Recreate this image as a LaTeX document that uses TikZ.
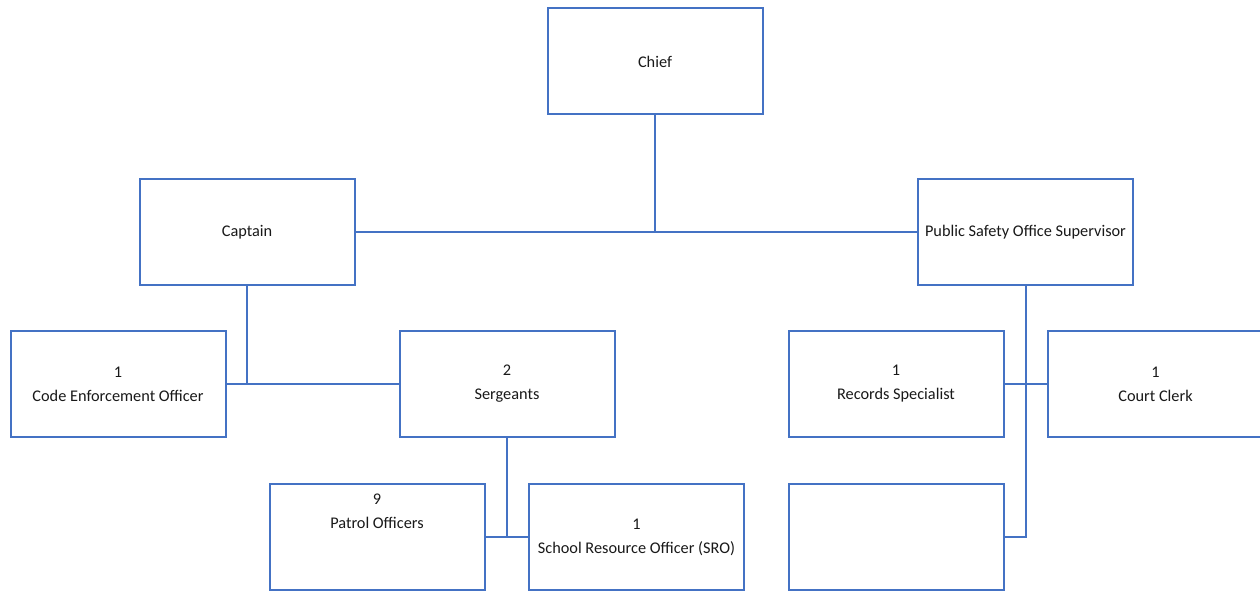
\documentclass[tikz,border=0pt]{standalone}
\usepackage{fontspec}
\setmainfont{Carlito}
\definecolor{orgblue}{HTML}{4472C4}
\begin{document}
\begin{tikzpicture}[x=1pt,y=-1pt,
  orgbox/.style={draw=orgblue, line width=2pt, fill=white, minimum width=215pt, minimum height=106pt, inner sep=0pt, align=center, font=\fontsize{16.3}{24}\selectfont, text=black!90},
  plain/.style={inner sep=0pt, align=center, font=\fontsize{16.3}{24}\selectfont, text=black!90},
  link/.style={draw=orgblue, line width=2pt}]
\useasboundingbox[fill=white] (0,0) rectangle (1260,593);
\node[orgbox] (chief) at (655,61.5) {Chief};
\node[orgbox] (captain) at (247,232.5) {Captain};
\node[orgbox] (pso) at (1025.5,232.5) {Public Safety Office Supervisor};
\node[orgbox] (code) at (118,384) {1\\Code Enforcement Officer};
\node[orgbox] (serg) at (507,384) {2\\Sergeants};
\node[orgbox] (records) at (896,384) {1\\Records Specialist};
\node[orgbox] (court) at (1155.5,384) {1\\Court Clerk};
\node[orgbox] (patrol) at (377,537) {};
\node[plain] (patroltext) at (377,511) {9\\Patrol Officers};
\node[orgbox] (sro) at (636.5,537) {1\\School Resource Officer (SRO)};
\node[orgbox] (empty) at (896,537) {};
\draw[link] (captain.east) -- (pso.west);
\draw[link] (chief.south) -- (chief.south |- captain.east);
\draw[link] (captain.south) -- (captain.south |- code.east);
\draw[link] (code.east) -- (serg.west);
\draw[link] (serg.south) -- (serg.south |- patrol.east);
\draw[link] (patrol.east) -- (sro.west);
\draw[link] (pso.south) |- (empty.east);
\draw[link] (records.east) -- (court.west);
\end{tikzpicture}
\end{document}
